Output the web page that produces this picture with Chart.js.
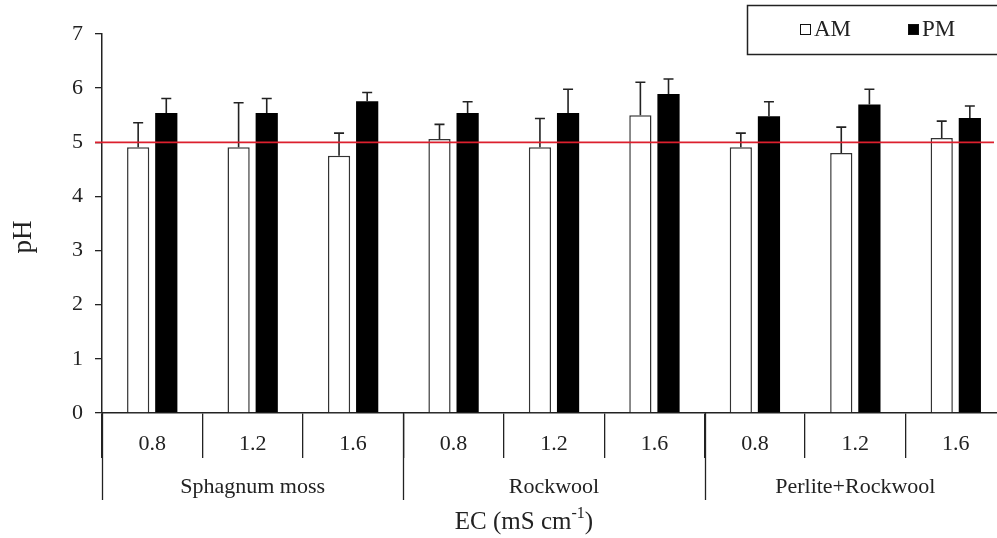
<!DOCTYPE html>
<html>
<head>
<meta charset="utf-8">
<script src="https://cdn.jsdelivr.net/npm/chart.js@4"></script>
<style>
	html, body { margin: 0; padding: 0; background: #fff; overflow: hidden; }
	#wrap { width: 1010px; height: 538px; }
</style>
</head>
<body>
<div id="wrap"><canvas id="chart" width="1010" height="538"></canvas></div>
<script>
// ── Data ────────────────────────────────────────────────────────────────────

const EC_LABELS = ['0.8', '1.2', '1.6', '0.8', '1.2', '1.6', '0.8', '1.2', '1.6']
const SUBSTRATES = ['Sphagnum moss', 'Rockwool', 'Perlite+Rockwool']
const AM_PH = [4.91, 4.91, 4.75, 5.06, 4.91, 5.5, 4.91, 4.8, 5.08]
const AM_ERR = [0.45, 0.82, 0.42, 0.27, 0.53, 0.61, 0.26, 0.48, 0.31]
const PM_PH = [5.54, 5.54, 5.76, 5.54, 5.54, 5.89, 5.48, 5.7, 5.45]
const PM_ERR = [0.27, 0.27, 0.16, 0.21, 0.44, 0.28, 0.27, 0.28, 0.22]
const Y_TICKS = [0, 1, 2, 3, 4, 5, 6, 7]
const REF_PH = 5

const FONT = "'Liberation Serif', 'Times New Roman', serif"
const INK = '#222'

// ── Plugins ─────────────────────────────────────────────────────────────────

// upper error bars only, like the original
const errorBars = {
	id: 'errorBars',
	afterDatasetsDraw(chart) {
		const c = chart.ctx
		const y = chart.scales.y
		c.save()
		c.strokeStyle = INK
		c.lineWidth = 1.6
		chart.data.datasets.forEach((ds, i) => {
			chart.getDatasetMeta(i).data.forEach((bar, j) => {
				const tip = y.getPixelForValue(ds.data[j] + ds.errors[j])
				c.beginPath()
				c.moveTo(bar.x, bar.y)
				c.lineTo(bar.x, tip)
				c.moveTo(bar.x - 5, tip)
				c.lineTo(bar.x + 5, tip)
				c.stroke()
			})
		})
		c.restore()
	},
}

const refLine = {
	id: 'refLine',
	afterDatasetsDraw(chart) {
		const c = chart.ctx
		const area = chart.chartArea
		const py = chart.scales.y.getPixelForValue(REF_PH)
		c.save()
		c.strokeStyle = '#dc1f2d'
		c.lineWidth = 1.8
		c.beginPath()
		c.moveTo(area.left - 7, py)
		c.lineTo(area.right - 12, py)
		c.stroke()
		c.restore()
	},
}

const axisText = {
	id: 'axisText',
	afterDraw(chart) {
		const c = chart.ctx
		const x = chart.scales.x
		const area = chart.chartArea
		const per = EC_LABELS.length / SUBSTRATES.length
		c.save()
		c.strokeStyle = INK
		c.lineWidth = 1.3
		c.fillStyle = INK
		c.font = `22px ${FONT}`
		c.textAlign = 'center'
		c.textBaseline = 'middle'
		for (let g = 0; g <= SUBSTRATES.length; g++) {
			const px = Math.round(x.getPixelForValue(g * per - 0.5)) + 0.5
			c.beginPath()
			c.moveTo(px, area.bottom)
			c.lineTo(px, area.bottom + 87)
			c.stroke()
			if (g < SUBSTRATES.length) {
				const mid = x.getPixelForValue(g * per + (per - 1) / 2)
				c.fillText(SUBSTRATES[g], mid, area.bottom + 74)
			}
		}

		// y title, sits a little below the middle of the axis in the original
		c.save()
		c.translate(24, 237)
		c.rotate(-Math.PI / 2)
		c.font = `27px ${FONT}`
		c.fillText('pH', 0, 0)
		c.restore()

		// x title with superscript
		const ty = area.bottom + 109
		const a = 'EC (mS cm'
		const sup = '-1'
		const b = ')'
		c.font = `25px ${FONT}`
		const wa = c.measureText(a).width
		const wb = c.measureText(b).width
		c.font = `16px ${FONT}`
		const ws = c.measureText(sup).width
		const left = 524 - (wa + ws + wb) / 2
		c.textAlign = 'left'
		c.font = `25px ${FONT}`
		c.fillText(a, left, ty)
		c.font = `16px ${FONT}`
		c.fillText(sup, left + wa, ty - 8)
		c.font = `25px ${FONT}`
		c.fillText(b, left + wa + ws, ty)
		c.restore()
	},
}

const boxLegend = {
	id: 'boxLegend',
	afterDraw(chart) {
		const c = chart.ctx
		c.save()
		c.strokeStyle = INK
		c.lineWidth = 1.5
		c.strokeRect(747.5, 5.5, chart.width - 749, 49)
		c.font = `23px ${FONT}`
		c.textBaseline = 'middle'
		c.textAlign = 'left'
		const xs = [800, 908]
		chart.data.datasets.forEach((ds, i) => {
			c.fillStyle = ds.backgroundColor
			c.fillRect(xs[i], 24, 11, 11)
			c.strokeStyle = '#111'
			c.lineWidth = 1
			c.strokeRect(xs[i] + 0.5, 24.5, 10, 10)
			c.fillStyle = INK
			c.fillText(ds.label, xs[i] + 14, 30)
		})
		c.restore()
	},
}

// ── Chart ───────────────────────────────────────────────────────────────────

const ctx = document.getElementById('chart').getContext('2d')
const chart = new Chart(ctx, {
	type: 'bar',
	data: {
		labels: EC_LABELS,
		datasets: [
			{
				label: 'AM',
				data: AM_PH,
				errors: AM_ERR,
				backgroundColor: '#ffffff',
				borderColor: '#333',
				borderWidth: 1.5,
				categoryPercentage: 0.56,
				barPercentage: 0.79,
			},
			{
				label: 'PM',
				data: PM_PH,
				errors: PM_ERR,
				backgroundColor: '#000000',
				borderWidth: 0,
				categoryPercentage: 0.56,
				barPercentage: 0.79,
			},
		],
	},
	options: {
		responsive: false,
		animation: false,
		layout: { padding: { top: 34, right: 4, left: 0, bottom: 0 } },
		plugins: {
			legend: { display: false },
			tooltip: { enabled: false },
		},
		scales: {
			x: {
				grid: { offset: true, drawOnChartArea: false, tickLength: 45, color: INK, lineWidth: 1.3 },
				border: { color: INK, width: 1.5 },
				ticks: { padding: -27, color: INK, font: { family: FONT, size: 22 } },
				afterFit: s => { s.height = 125 },
			},
			y: {
				min: 0,
				max: 7,
				afterBuildTicks: s => { s.ticks = Y_TICKS.map(v => ({ value: v })) },
				ticks: { padding: 12, color: INK, font: { family: FONT, size: 22 } },
				grid: { drawOnChartArea: false, tickLength: 7, color: INK, lineWidth: 1.3 },
				border: { color: INK, width: 1.5 },
				afterFit: s => { s.width = 102 },
			},
		},
	},
	plugins: [errorBars, refLine, axisText, boxLegend],
})
</script>
</body>
</html>
